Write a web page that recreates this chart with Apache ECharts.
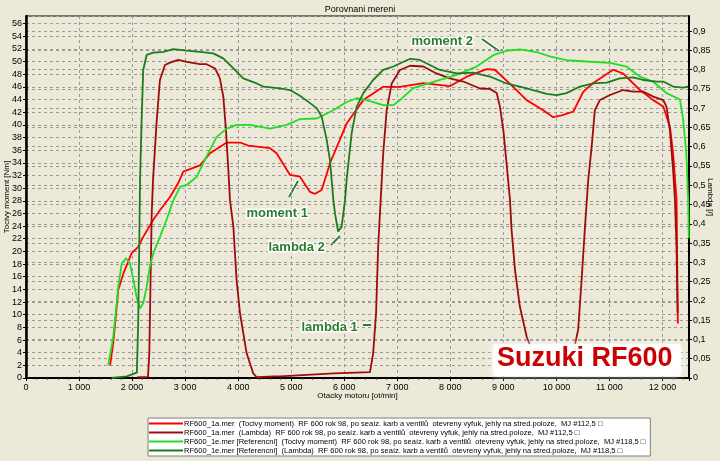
<!DOCTYPE html>
<html>
<head>
<meta charset="utf-8">
<script src="https://cdn.jsdelivr.net/npm/echarts@6/dist/echarts.min.js"></script>
<style>
html,body{margin:0;padding:0;background:#ECE9D8;}
#c{width:720px;height:461px;}
</style>
</head>
<body>
<div id="c"></div>
<script>
// ---- data (rpm, value) ----
const torque1a = [[1585,2.0],[1645,5.5],[1740,13.9],[1835,16.5],[1990,19.7],[2115,20.7],[2210,22.3],[2400,25.0],[2525,26.5],[2715,28.6],[2870,30.8],[2965,32.6],[3280,33.6],[3470,35.5],[3785,37.2],[4035,37.2],[4190,36.7],[4600,36.3],[4725,35.5],[4975,32.1],[5165,31.8],[5355,29.4],[5450,29.1],[5575,29.7],[5730,33.9],[6045,40.2],[6360,43.9],[6735,46.0],[7050,46.0],[7490,46.6],[7990,46.1],[8310,47.6],[8685,48.8],[8840,48.7],[9185,46.0],[9440,43.9],[9750,42.3],[9940,41.2],[10100,41.5],[10320,42.1],[10505,45.2],[10695,46.6],[11070,48.7],[11260,48.1],[11575,45.5],[11825,43.9],[12015,42.9],[12140,39.7],[12200,35.5],[12266,28.1],[12290,8.6]];
const lambda1a = [[2100,0.002],[2300,0.003],[2325,0.065],[2370,0.427],[2395,0.514],[2465,0.669],[2525,0.773],[2620,0.812],[2715,0.818],[2870,0.825],[3030,0.820],[3280,0.814],[3405,0.814],[3565,0.803],[3655,0.777],[3720,0.730],[3770,0.643],[3815,0.540],[3845,0.462],[3910,0.392],[3970,0.254],[4035,0.168],[4160,0.064],[4285,0.012],[4350,0.002],[4690,0.004],[4790,0.004],[5800,0.012],[6485,0.015],[6545,0.064],[6600,0.168],[6640,0.341],[6690,0.470],[6735,0.583],[6800,0.695],[6895,0.764],[7050,0.799],[7240,0.810],[7490,0.808],[7740,0.790],[7990,0.777],[8245,0.769],[8560,0.751],[8745,0.750],[8875,0.739],[8935,0.704],[9000,0.643],[9060,0.557],[9125,0.462],[9155,0.384],[9220,0.280],[9310,0.186],[9440,0.107],[9565,0.064],[9750,0.038],[9940,0.021],[10290,0.047],[10410,0.125],[10475,0.254],[10535,0.384],[10600,0.514],[10665,0.600],[10725,0.695],[10820,0.721],[11010,0.734],[11260,0.747],[11450,0.743],[11635,0.743],[11825,0.730],[12015,0.721],[12075,0.704],[12140,0.643],[12200,0.540],[12235,0.462],[12265,0.341],[12285,0.169]];
const torque1e = [[1550,2.0],[1645,6.5],[1740,14.4],[1805,18.1],[1885,18.9],[1960,18.1],[2025,15.5],[2085,12.8],[2150,11.0],[2210,11.8],[2275,14.4],[2335,17.6],[2400,19.7],[2525,22.3],[2650,25.0],[2780,28.1],[2905,30.2],[3030,30.5],[3220,31.8],[3405,35.0],[3595,38.1],[3785,39.4],[3970,40.0],[4220,40.0],[4600,39.4],[4915,40.0],[5165,40.9],[5480,41.0],[5795,42.3],[6045,43.6],[6235,44.2],[6420,43.9],[6735,43.1],[6925,43.1],[7050,43.9],[7300,45.8],[7680,46.8],[8120,47.9],[8495,49.2],[8810,51.0],[9060,51.7],[9310,51.9],[9625,51.5],[9875,50.8],[10190,50.2],[10570,50.0],[11010,49.8],[11325,49.2],[11575,47.6],[11825,46.8],[12075,45.0],[12330,44.0],[12390,40.8],[12450,35.5],[12485,28.1],[12497,22.1]];
const lambda1e = [[1620,0.0],[1900,0.004],[2090,0.014],[2115,0.142],[2135,0.341],[2150,0.514],[2180,0.669],[2210,0.799],[2275,0.838],[2400,0.844],[2590,0.846],[2775,0.853],[3030,0.849],[3280,0.846],[3530,0.842],[3720,0.829],[3910,0.803],[4095,0.777],[4350,0.764],[4475,0.756],[4790,0.751],[4975,0.747],[5165,0.732],[5355,0.713],[5480,0.700],[5575,0.678],[5670,0.617],[5730,0.566],[5795,0.462],[5825,0.427],[5885,0.380],[5950,0.392],[6015,0.462],[6045,0.514],[6140,0.635],[6235,0.704],[6360,0.739],[6545,0.773],[6735,0.799],[6925,0.808],[7240,0.828],[7425,0.825],[7615,0.812],[7805,0.799],[8120,0.790],[8430,0.792],[8745,0.782],[9060,0.764],[9440,0.751],[9815,0.737],[10005,0.734],[10190,0.739],[10445,0.756],[10695,0.764],[10945,0.766],[11195,0.777],[11450,0.780],[11635,0.773],[11890,0.769],[12015,0.769],[12200,0.756],[12390,0.753],[12485,0.756]];

const seriesNames = [
  'RF600_1a.mer  (Tocivy moment)  RF 600 rok 98, po seaíz. karb a ventilů  otevreny vyfuk, jehly na stred.poloze,  MJ #112,5 \u25A1',
  'RF600_1a.mer  (Lambda)  RF 600 rok 98, po seaíz. karb a ventilů  otevreny vyfuk, jehly na stred.poloze,  MJ #112,5 \u25A1',
  'RF600_1e.mer [Referencni]  (Tocivy moment)  RF 600 rok 98, po seaíz. karb a ventilů  otevreny vyfuk, jehly na stred.poloze,  MJ #118,5 \u25A1',
  'RF600_1e.mer [Referencni]  (Lambda)  RF 600 rok 98, po seaíz. karb a ventilů  otevreny vyfuk, jehly na stred.poloze,  MJ #118,5 \u25A1'
];
const titleText = 'Porovnani mereni';
const xName = 'Otacky motoru [ot/min]';
const yLeftName = 'Tocivy moment [Nm]';
const yRightName = 'Lambda [/]';

// ---- style ----
const FF = '"Liberation Sans", Arial, sans-serif';
const mctx = document.createElement('canvas').getContext('2d');
function fit(text, target, weight){ mctx.font = (weight||'normal') + ' 100px ' + FF; return 100 * target / mctx.measureText(text).width; }
const legendFont = Math.min(8.5, fit(seriesNames[2], 462));
const colors = ['#ff0000', '#9c0c0c', '#22dd22', '#1e7a1e'];
const annColor = '#2b7d2b';
const dashGray = {color: '#9a9a9a', width: 1, type: [3, 3]};

const chart = echarts.init(document.getElementById('c'), null, {renderer: 'canvas'});
const mk = (i, data, yi) => ({
  name: seriesNames[i], type: 'line', data: data, yAxisIndex: yi,
  symbol: 'none', showSymbol: false, smooth: false, animation: false,
  lineStyle: {color: colors[i], width: 1.8}, itemStyle: {color: colors[i]}
});

function annText(x, y, t){
  return {type: 'text', left: x, top: y, z: 50,
    style: {text: t, fill: annColor, font: 'bold 13px ' + FF, stroke: '#fff', lineWidth: 3}};
}
function annLine(x1, y1, x2, y2){
  return {type: 'group', z: 50, children: [
    {type: 'line', shape: {x1, y1, x2, y2}, style: {stroke: '#fff', lineWidth: 4.5}},
    {type: 'line', shape: {x1, y1, x2, y2}, style: {stroke: annColor, lineWidth: 2}}
  ]};
}

chart.setOption({
  backgroundColor: '#ECE9D8',
  animation: false,
  textStyle: {fontFamily: FF},
  title: {text: titleText, left: 'center', top: 0,
    textStyle: {fontSize: 9, fontWeight: 'normal', color: '#000', fontFamily: FF}},
  grid: {left: 26, right: 31, top: 16, bottom: 83, outerBoundsMode: 'none', containLabel: false,
    show: true, borderColor: '#000', borderWidth: 1, backgroundColor: 'transparent'},
  legend: {
    orient: 'vertical', left: 148, top: 418,
    backgroundColor: '#fff', borderColor: '#7f7f7f', borderWidth: 1,
    padding: [1, 5, 1, 1], itemGap: 0, itemWidth: 34, itemHeight: 2,
    icon: 'rect',
    textStyle: {fontSize: legendFont, lineHeight: 9, color: '#000', fontFamily: FF, padding: [0, 0, 0, -4]},
    selectedMode: false,
    data: seriesNames
  },
  xAxis: {
    type: 'value', min: 0, max: 12500, interval: 1000,
    name: xName, nameLocation: 'middle', nameGap: 14, nameMoveOverlap: false,
    nameTextStyle: {fontSize: 8, color: '#000'},
    axisLine: {show: true, onZero: false, lineStyle: {color: '#000', width: 2}},
    axisTick: {show: true, length: 3, lineStyle: {color: '#000'}},
    minorTick: {show: true, splitNumber: 5, length: 2, lineStyle: {color: '#555'}},
    axisLabel: {fontSize: 9, color: '#000', margin: 5, showMaxLabel: false,
      formatter: v => v === 0 ? '0' : (v / 1000) + ' 000'},
    splitLine: {show: true, lineStyle: dashGray}
  },
  yAxis: [
    {
      type: 'value', position: 'left', min: 0, max: 57.19, interval: 2,
      name: yLeftName, nameLocation: 'middle', nameGap: 15, nameRotate: 90, nameMoveOverlap: false,
      nameTextStyle: {fontSize: 8, color: '#000'},
      axisLine: {show: true, onZero: false, lineStyle: {color: '#000', width: 2.5}},
      axisTick: {show: true, length: 3, lineStyle: {color: '#000'}},
      axisLabel: {fontSize: 9, color: '#000', margin: 4, showMaxLabel: false},
      splitLine: {show: true, lineStyle: dashGray}
    },
    {
      type: 'value', position: 'right', min: 0, max: 0.939, interval: 0.05,
      name: yRightName, nameLocation: 'middle', nameGap: 17, nameRotate: -90, nameMoveOverlap: false,
      nameTextStyle: {fontSize: 8, color: '#000'},
      axisLine: {show: true, onZero: false, lineStyle: {color: '#000', width: 2}},
      axisTick: {show: true, length: 3, lineStyle: {color: '#000'}},
      axisLabel: {fontSize: 9, color: '#000', margin: 4, showMaxLabel: false,
        formatter: v => String(+v.toFixed(2)).replace('.', ',')},
      splitLine: {show: true, lineStyle: dashGray}
    }
  ],
  series: [mk(0, torque1a, 0), mk(1, lambda1a, 1), mk(2, torque1e, 0), mk(3, lambda1e, 1)],
  graphic: [
    annText(410, 33, 'moment 2'), annLine(482, 39, 499, 51),
    annText(245, 205, 'moment 1'), annLine(289, 197, 298, 181),
    annText(267, 239, 'lambda 2'), annLine(331, 245, 340, 236),
    annText(300, 319, 'lambda 1'), annLine(363, 325, 371, 325),
    {type: 'rect', z: 40, shape: {x: 493, y: 344, width: 188, height: 32, r: 4},
      style: {fill: 'rgba(255,255,255,0.88)', shadowBlur: 7, shadowColor: '#ffffff'}},
    {type: 'text', z: 45, left: 497, top: 345,
      style: {text: 'Suzuki RF600', fill: '#cc0000', font: 'bold 27px ' + FF}}
  ]
});
</script>
</body>
</html>
